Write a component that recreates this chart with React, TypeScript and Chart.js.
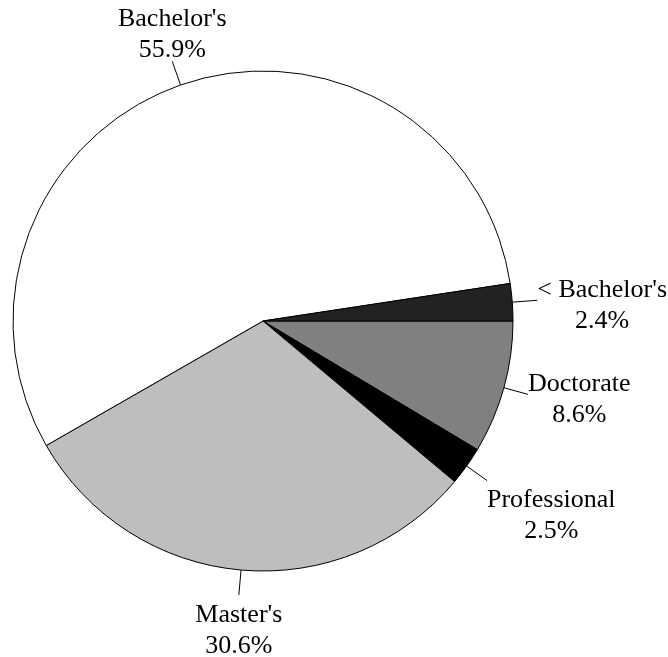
import React, { useEffect, useRef } from "react";
import { Chart, registerables } from "chart.js";

Chart.register(...registerables);

// Order is clockwise starting from 3 o'clock
const categories = ["Doctorate", "Professional", "Master's", "Bachelor's", "< Bachelor's"];
const shares = [8.6, 2.5, 30.6, 55.9, 2.4];
const shareLabels = ["8.6%", "2.5%", "30.6%", "55.9%", "2.4%"];
const sliceColors = ["#808080", "#000000", "#BEBEBE", "#FFFFFF", "#222222"];

const FONT = "26px \"Liberation Serif\", \"Times New Roman\", \"DejaVu Serif\", serif";
const LINE_H = 31;
const LEADER = 25;

const labelPlugin = {
  id: "outerLabels",
  afterDraw(chart: any) {
    const ctx = chart.ctx;
    const meta = chart.getDatasetMeta(0);
    ctx.save();
    ctx.font = FONT;
    ctx.fillStyle = "#000";
    ctx.strokeStyle = "#000";
    ctx.lineWidth = 1;
    ctx.textBaseline = "middle";
    ctx.textAlign = "center";
    meta.data.forEach((arc: any, i: number) => {
      const { x, y, startAngle, endAngle, outerRadius } = arc.getProps(
        ["x", "y", "startAngle", "endAngle", "outerRadius"],
        true
      );
      const mid = (startAngle + endAngle) / 2;
      const c = Math.cos(mid);
      const s = Math.sin(mid);
      const x0 = x + c * outerRadius;
      const y0 = y + s * outerRadius;
      const x1 = x + c * (outerRadius + LEADER);
      const y1 = y + s * (outerRadius + LEADER);
      ctx.beginPath();
      ctx.moveTo(x0, y0);
      ctx.lineTo(x1, y1);
      ctx.stroke();

      const lines = [categories[i], shareLabels[i]];
      const widths = lines.map((t) => ctx.measureText(t).width);
      const w = Math.max(...widths);
      let cx: number;
      if (c > 0.5) cx = x1 + w / 2;
      else if (c < -0.5) cx = x1 - w / 2;
      else cx = x1;
      let firstY: number;
      if (s > 0.5) firstY = y1 + 20;
      else if (s < -0.5) firstY = y1 - 11 - LINE_H * (lines.length - 1);
      else firstY = y1 - 10;
      lines.forEach((t, k) => {
        ctx.fillText(t, cx, firstY + k * LINE_H);
      });
    });
    ctx.restore();
  },
};

export default function App() {
  const ref = useRef<HTMLCanvasElement | null>(null);
  useEffect(() => {
    document.body.style.margin = "0";
    const chart = new Chart(ref.current!, {
      type: "pie",
      data: {
        labels: categories,
        datasets: [
          {
            data: shares,
            backgroundColor: sliceColors,
            borderColor: "#000000",
            borderWidth: 1,
            hoverOffset: 0,
            offset: 0,
          },
        ],
      },
      options: {
        responsive: false,
        animation: false,
        events: [],
        rotation: 90,
        radius: 250,
        layout: { padding: { left: 13, right: 155, top: 71, bottom: 86 } },
        plugins: {
          legend: { display: false },
          tooltip: { enabled: false },
        },
      },
      plugins: [labelPlugin],
    });
    let alive = true;
    if ((document as any).fonts && (document as any).fonts.load) {
      (document as any).fonts.load(FONT).then(() => {
        if (alive) chart.update();
      });
    }
    return () => {
      alive = false;
      chart.destroy();
    };
  }, []);
  return (
    <div style={{ position: "absolute", left: 0, top: 0, width: 668, height: 657, background: "#fff" }}>
      <canvas ref={ref} width={668} height={657} />
      <span
        style={{
          position: "absolute",
          left: 0,
          top: 0,
          fontFamily: "\"Liberation Serif\"",
          fontSize: 26,
          color: "transparent",
          pointerEvents: "none",
        }}
      >
        .
      </span>
    </div>
  );
}
